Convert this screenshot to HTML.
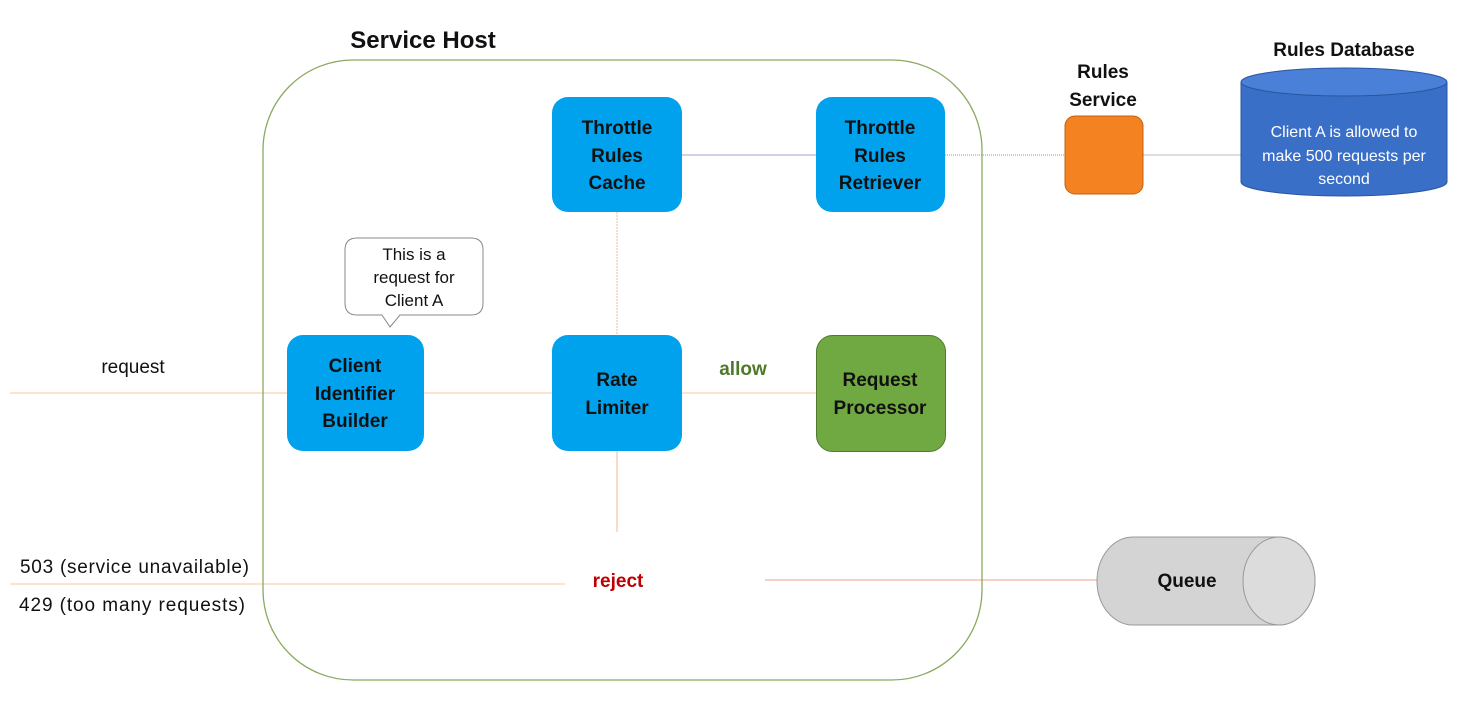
<!DOCTYPE html>
<html><head><meta charset="utf-8"><style>
html,body{margin:0;padding:0;background:#fff;}
svg{display:block;font-family:"Liberation Sans",sans-serif;}
.b{font-weight:bold;font-size:19px;fill:#111;}
.n{font-size:19px;fill:#111;}
</style></head><body>
<svg width="1473" height="726" viewBox="0 0 1473 726">
<line x1="10" y1="393" x2="287" y2="393" stroke="#f5c8a0" stroke-width="1"/>
<line x1="424" y1="393" x2="552" y2="393" stroke="#f5c8a0" stroke-width="1"/>
<line x1="682" y1="393" x2="816" y2="393" stroke="#f5c8a0" stroke-width="1"/>
<line x1="617" y1="212" x2="617" y2="335" stroke="#f0b890" stroke-width="1" stroke-dasharray="2,1"/>
<line x1="617" y1="451" x2="617" y2="532" stroke="#f0b890" stroke-width="1"/>
<line x1="10" y1="584" x2="565" y2="584" stroke="#f5c8a0" stroke-width="1"/>
<line x1="765" y1="580" x2="1097" y2="580" stroke="#f0a090" stroke-width="1"/>
<line x1="682" y1="155" x2="816" y2="155" stroke="#a0a0d0" stroke-width="1"/>
<line x1="945" y1="155" x2="1065" y2="155" stroke="#999" stroke-width="1" stroke-dasharray="1,1"/>
<line x1="1143" y1="155" x2="1241" y2="155" stroke="#bbb" stroke-width="1"/>
<rect x="263" y="60" width="719" height="620" rx="90" fill="none" stroke="#8aaa60" stroke-width="1.3"/>
<text x="423" y="48" text-anchor="middle" style="font-weight:bold;font-size:24px;fill:#111">Service Host</text>
<rect x="552" y="97" width="130" height="115" rx="16" fill="#00a2ed"/>
<text class="b" text-anchor="middle"><tspan x="617" y="134">Throttle</tspan><tspan x="617" y="162">Rules</tspan><tspan x="617" y="189">Cache</tspan></text>
<rect x="816" y="97" width="129" height="115" rx="16" fill="#00a2ed"/>
<text class="b" text-anchor="middle"><tspan x="880" y="134">Throttle</tspan><tspan x="880" y="162">Rules</tspan><tspan x="880" y="189">Retriever</tspan></text>
<rect x="287" y="335" width="137" height="116" rx="16" fill="#00a2ed"/>
<text class="b" text-anchor="middle"><tspan x="355" y="372">Client</tspan><tspan x="355" y="400">Identifier</tspan><tspan x="355" y="427">Builder</tspan></text>
<rect x="552" y="335" width="130" height="116" rx="16" fill="#00a2ed"/>
<text class="b" text-anchor="middle"><tspan x="617" y="386">Rate</tspan><tspan x="617" y="414">Limiter</tspan></text>
<rect x="816.5" y="335.5" width="129" height="116" rx="16" fill="#70a842" stroke="#507a30"/>
<text class="b" text-anchor="middle"><tspan x="880" y="386">Request</tspan><tspan x="880" y="414">Processor</tspan></text>
<text x="743" y="375" text-anchor="middle" style="font-weight:bold;font-size:19px;fill:#4e7a2a">allow</text>
<text x="618" y="587" text-anchor="middle" style="font-weight:bold;font-size:19px;fill:#c00000">reject</text>
<path d="M357,238 H471 Q483,238 483,250 V303 Q483,315 471,315 H400 L390,327 L382,315 H357 Q345,315 345,303 V250 Q345,238 357,238 Z" fill="#fff" stroke="#888"/>
<text text-anchor="middle" style="font-size:17px;fill:#111"><tspan x="414" y="260">This is a</tspan><tspan x="414" y="283">request for</tspan><tspan x="414" y="306">Client A</tspan></text>
<text class="n" x="133" y="373" text-anchor="middle">request</text>
<text class="n" x="20" y="573" textLength="229">503 (service unavailable)</text>
<text class="n" x="19" y="611" textLength="226">429 (too many requests)</text>
<text class="b" text-anchor="middle"><tspan x="1103" y="78">Rules</tspan><tspan x="1103" y="106">Service</tspan></text>
<rect x="1065" y="116" width="78" height="78" rx="10" fill="#f58220" stroke="#c06010"/>
<text class="b" x="1344" y="56" text-anchor="middle">Rules Database</text>
<path d="M1241,82 V182 A103,14 0 0 0 1447,182 V82" fill="#3a6fc8" stroke="#2a55a0"/>
<ellipse cx="1344" cy="82" rx="103" ry="14" fill="#4a80d8" stroke="#2a55a0"/>
<text text-anchor="middle" style="font-size:16px;fill:#fff"><tspan x="1344" y="137">Client A is allowed to</tspan><tspan x="1344" y="161">make 500 requests per</tspan><tspan x="1344" y="184">second</tspan></text>
<path d="M1133,537 H1279 A36,44 0 0 1 1279,625 H1133 A36,44 0 0 1 1133,537 Z" fill="#d4d4d4" stroke="#999"/>
<ellipse cx="1279" cy="581" rx="36" ry="44" fill="#dcdcdc" stroke="#999"/>
<text class="b" x="1187" y="587" text-anchor="middle">Queue</text>
</svg>
</body></html>
